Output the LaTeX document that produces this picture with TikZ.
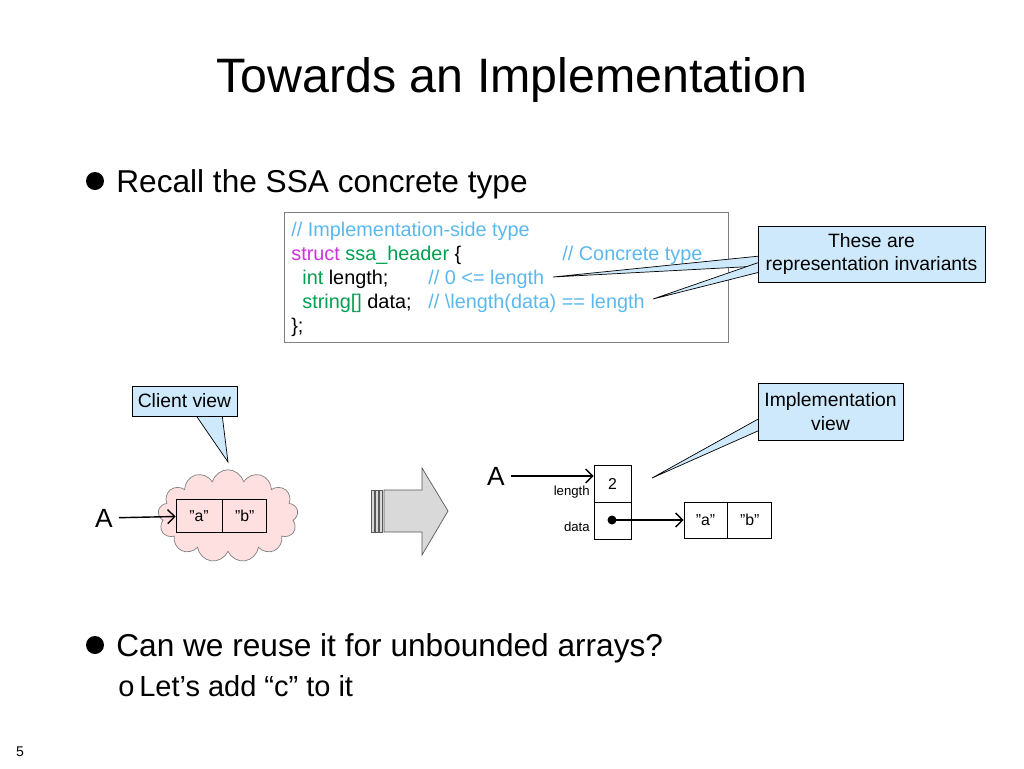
\documentclass[tikz,border=0pt]{standalone}
\usepackage{fontspec}
\setmainfont{Liberation Sans}
\usetikzlibrary{arrows.meta,positioning,shapes.symbols}
\definecolor{cmt}{HTML}{5BB8EE}
\definecolor{kw}{HTML}{CC33DD}
\definecolor{ty}{HTML}{00A050}
\definecolor{callfill}{HTML}{CDE9FB}
\tikzset{
  call/.style={draw, fill=callfill, align=center, inner sep=2pt, font=\fontsize{11}{13.5}\selectfont},
  cell/.style={draw, minimum height=0.66cm, inner sep=0pt, font=\fontsize{9}{10}\selectfont},
  code/.style={anchor=base west, inner sep=0pt, font=\fontsize{11.3}{12}\selectfont},
  lbl/.style={anchor=base east, inner sep=0pt, font=\fontsize{7.5}{9}\selectfont},
  ptr/.style={-{Straight Barb[length=4pt]}, thick},
  bul/.style={anchor=base west, inner sep=0pt, font=\fontsize{18}{21}\selectfont}
}
\newcommand{\dq}{\symbol{34}}
\begin{document}
\begin{tikzpicture}[x=0.02cm,y=-0.02cm]
  \useasboundingbox (0,0) rectangle (1024,768);
  % Title
  \node[font=\fontsize{27.5}{32}\selectfont] (title) at (512,80) {Towards an Implementation};
  % Bullets
  \fill (95,181) circle (9);
  \node[bul] (b1) at (116,192) {Recall the SSA concrete type};
  \fill (95,645) circle (9);
  \node[bul] (b2) at (116,656) {Can we reuse it for unbounded arrays?};
  \node[bul, font=\fontsize{16.5}{19}\selectfont] (b3) at (118,696) {o\,Let’s add “c” to it};
  \node[font=\fontsize{8}{10}\selectfont] (pg) at (20,752) {5};
  % Code box
  \draw[gray] (284,212) rectangle (728,342);
  \node[code] (c1) at (291,236) {\color{cmt}// Implementation-side type};
  \node[code] (c2) at (291,260) {\color{kw}struct \color{ty}ssa\_header \color{black}\{};
  \node[code] (c2b) at (562,260) {\color{cmt}// Concrete type};
  \node[code] (c3) at (302,284) {\color{ty}int \color{black}length;};
  \node[code] (c3b) at (428,284) {\color{cmt}// 0 <= length};
  \node[code] (c4) at (302,308) {\color{ty}string[] \color{black}data;};
  \node[code] (c4b) at (428,308) {\color{cmt}// \textbackslash length(data) == length};
  \node[code] (c5) at (291,332) {\};};
  % Callouts
  \filldraw[fill=callfill] (760,256) -- (553,277) -- (760,266) -- cycle;
  \filldraw[fill=callfill] (760,262) -- (653,299) -- (760,272) -- cycle;
  \node[call, minimum width=4.54cm, minimum height=1.12cm] (inv) at (871.5,254) {These are\\representation invariants};
  \filldraw[fill=callfill] (195,414) -- (228,462) -- (222,414) -- cycle;
  \node[call, minimum width=2.1cm, minimum height=0.6cm] (cv) at (184.5,401) {Client view};
  \filldraw[fill=callfill] (760,418) -- (652,478) -- (760,430) -- cycle;
  \node[call, minimum width=2.9cm, minimum height=1.14cm] (iv) at (830.5,411.5) {Implementation\\view};
  % Client view
  \node[cloud, cloud puffs=13, aspect=1.6, draw=gray, fill=red!12, minimum width=2.8cm, minimum height=1.85cm] (cloud) at (228,516) {};
  \node[cell, minimum width=0.92cm] (ca) at (199,516) {\dq a\dq};
  \node[cell, minimum width=0.88cm, right=0pt of ca] (cb) {\dq b\dq};
  \node[font=\fontsize{15}{17}\selectfont] (A1) at (104,518) {A};
  \draw[ptr] (A1) -- (ca);
  % Big arrow
  \filldraw[draw=gray!70!black, fill=gray!30] (384,490) -- (422,490) -- (422,468) -- (448,511) -- (422,555) -- (422,532) -- (384,532) -- cycle;
  \foreach \x in {371,375,379} \draw[gray!70!black, fill=gray!30] (\x,490) rectangle (\x+3,532);
  % Implementation view
  \node[cell, minimum width=0.74cm, minimum height=0.74cm] (len) at (612.5,483.5) {2};
  \node[cell, minimum width=0.74cm, minimum height=0.74cm, below=0pt of len] (dat) {};
  \node[lbl] (ll) at (590,495) {length};
  \node[lbl] (dl) at (590,531) {data};
  \node[font=\fontsize{15}{17}\selectfont] (A2) at (496,476) {A};
  \draw[ptr] (A2) -- (len.west |- A2);
  \fill (612,520) circle (4.5) coordinate (dot);
  \node[cell, minimum width=0.86cm, minimum height=0.72cm] (ia) at (705.5,520) {\dq a\dq};
  \node[cell, minimum width=0.88cm, minimum height=0.72cm, right=0pt of ia] (ib) {\dq b\dq};
  \draw[ptr] (dot) -- (ia);
\end{tikzpicture}
\end{document}
